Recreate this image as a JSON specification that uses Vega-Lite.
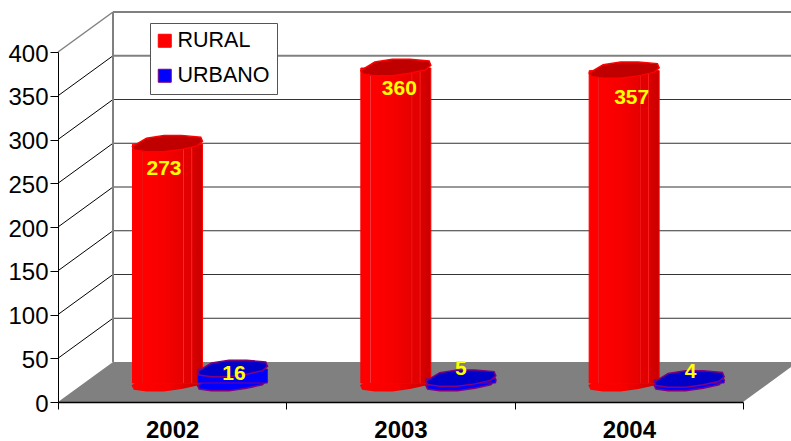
{
"$schema":"https://vega.github.io/schema/vega-lite/v6.json",
"autosize":{"type":"none"},
"padding":{"left":58,"top":12,"right":0,"bottom":39},
"width":733,"height":390,
"background":"white",
"config":{"view":{"stroke":null},"font":"Liberation Sans"},
"datasets":{
"cases":[
{"year":"2002","series":"RURAL","value":273},
{"year":"2003","series":"RURAL","value":360},
{"year":"2004","series":"RURAL","value":357},
{"year":"2002","series":"URBANO","value":16},
{"year":"2003","series":"URBANO","value":5},
{"year":"2004","series":"URBANO","value":4}],
"levels":[{"level":50,"back":95.7},{"level":100,"back":145.7},{"level":150,"back":195.7},{"level":200,"back":245.7},{"level":250,"back":295.7},{"level":300,"back":345.7},{"level":350,"back":395.7},{"level":400,"back":445.7}],
"wall":[{"low":0,"high":400}],
"floor":[{"x":0,"top":0,"bottom":0},{"x":0.2409,"top":45.7,"bottom":0},{"x":3,"top":45.7,"bottom":0},{"x":3.2409,"top":45.7,"bottom":45.7}]
},
"resolve":{"scale":{"x":"independent","y":"independent"}},
"layer":[
{"data":{"name":"floor"},"mark":{"type":"area","color":"#808080","clip":true,"interpolate":"linear"},
"encoding":{"x":{"field":"x","type":"quantitative","scale":{"domain":[0,3.2103],"range":[0,733]},"axis":null},
"y":{"field":"top","type":"quantitative","stack":null,"scale":{"domain":[0,400],"range":[390,40]},"axis":null},
"y2":{"field":"bottom"}}},
{"data":{"name":"levels"},"transform":[{"filter":"datum.level<400"}],"mark":{"type":"rule","color":"#000000","strokeWidth":1},
"encoding":{"x":{"datum":0,"type":"quantitative","scale":{"domain":[0,3.2103],"range":[0,733]},"axis":null},"x2":{"datum":0.2409},
"y":{"field":"level","type":"quantitative","scale":{"domain":[0,400],"range":[390,40]},"axis":null},"y2":{"field":"back"}}},
{"data":{"name":"levels"},"transform":[{"filter":"datum.level==400"}],"mark":{"type":"rule","color":"#808080","strokeWidth":1.5},
"encoding":{"x":{"datum":0,"type":"quantitative","scale":{"domain":[0,3.2103],"range":[0,733]},"axis":null},"x2":{"datum":0.2409},
"y":{"field":"level","type":"quantitative","scale":{"domain":[0,400],"range":[390,40]},"axis":null},"y2":{"field":"back"}}},
{"data":{"name":"levels"},"transform":[{"filter":"datum.level<=300"}],"mark":{"type":"rule","color":"#333333","strokeWidth":1},
"encoding":{"x":{"datum":0.2409,"type":"quantitative","scale":{"domain":[0,3.2103],"range":[0,733]},"axis":null},"x2":{"datum":3.2103},
"y":{"field":"level","type":"quantitative","scale":{"domain":[0,400],"range":[350,0]},"axis":null}}},
{"data":{"name":"levels"},"transform":[{"filter":"datum.level>300"}],"mark":{"type":"rule","color":"#808080","strokeWidth":2},
"encoding":{"x":{"datum":0.2409,"type":"quantitative","scale":{"domain":[0,3.2103],"range":[0,733]},"axis":null},"x2":{"datum":3.2103},
"y":{"field":"level","type":"quantitative","scale":{"domain":[0,400],"range":[350,0]},"axis":null}}},
{"data":{"name":"wall"},"mark":{"type":"rule","color":"#808080","strokeWidth":2},
"encoding":{"x":{"datum":0.2409,"type":"quantitative","scale":{"domain":[0,3.2103],"range":[0,733]},"axis":null},
"y":{"field":"low","type":"quantitative","scale":{"domain":[0,400],"range":[350,0]},"axis":null},"y2":{"field":"high"}}},
{"data":{"name":"cases"},"mark":{"type":"point","opacity":0},
"encoding":{"x":{"field":"year","type":"nominal","scale":{"domain":["2002","2003","2004"],"range":[0,685],"paddingInner":0,"paddingOuter":0},
"axis":{"title":null,"tickBand":"extent","labelAngle":0,"labelFontSize":24,"labelFontWeight":"bold","labelColor":"#000000","tickColor":"#000000","domainColor":"#000000","domainWidth":1.5,"tickSize":7,"labelPadding":9,"zindex":1}},
"y":{"field":"value","type":"quantitative","scale":{"domain":[0,400],"range":[390,40]},
"axis":{"title":null,"values":[0,50,100,150,200,250,300,350,400],"grid":false,"labelFontSize":24,"labelColor":"#000000","labelOffset":2,"tickColor":"#000000","domainColor":"#000000","tickSize":8,"labelPadding":2,"zindex":1}}}},
{"data":{"name":"cases"},"transform":[{"filter":"datum.series==='RURAL'"}],
"mark":{"type":"point","filled":true,"size":4900,"strokeWidth":1.5,"opacity":1,"shape":"M-1,0.07L-0.95,0.17L-0.6,0.22L-0.1,0.22L0.4,0.15L0.85,0.05L1,-0.08L0.95,-0.2L0.4,-0.25L-0.1,-0.25L-0.6,-0.17Z","fill":{"gradient":"linear","x1":0,"x2":1,"y1":0,"y2":0,"stops":[{"offset":0,"color":"#ff0000"},{"offset":0.5,"color":"#f80000"},{"offset":1,"color":"#c80000"}]},"stroke":{"gradient":"linear","x1":0,"x2":1,"y1":0,"y2":0,"stops":[{"offset":0,"color":"#ff0000"},{"offset":0.5,"color":"#f80000"},{"offset":1,"color":"#c80000"}]}},
"encoding":{"x":{"field":"year","type":"nominal","scale":{"domain":["2002","2003","2004"],"range":[-4.67,680.33],"paddingInner":0,"paddingOuter":0},"axis":null},
"y":{"datum":0,"type":"quantitative","scale":{"domain":[0,400],"range":[371,21]},"axis":null}}},
{"data":{"name":"cases"},"transform":[{"filter":"datum.series==='RURAL'"}],
"mark":{"type":"bar","width":70,"strokeWidth":1},
"encoding":{"x":{"field":"year","type":"nominal","scale":{"domain":["2002","2003","2004"],"range":[-4.67,680.33],"paddingInner":0,"paddingOuter":0},"axis":null},
"y":{"field":"value","type":"quantitative","stack":null,"scale":{"domain":[0,400],"range":[371,21]},"axis":null},
"fill":{"field":"series","type":"nominal","scale":{"domain":["RURAL","URBANO"],"range":["#ff0000","#0000ff"]},"legend":{"title":null,"orient":"none","legendX":92,"legendY":11,"fillColor":"#ffffff","strokeColor":"#555555","padding":7,"labelFontSize":21.5,"labelColor":"#000000","symbolType":"square","symbolSize":169,"symbolStrokeWidth":1,"symbolOffset":-3,"rowPadding":12,"labelOffset":2}},
"stroke":{"field":"series","type":"nominal","scale":{"domain":["RURAL","URBANO"],"range":["#ff0000","#800080"]},"legend":{"title":null,"orient":"none","legendX":92,"legendY":11}}}},
{"data":{"name":"cases"},"transform":[{"filter":"datum.series==='RURAL'"}],
"mark":{"type":"bar","width":69,"fill":{"gradient":"linear","x1":0,"x2":1,"y1":0,"y2":0,"stops":[{"offset":0,"color":"rgba(0,0,0,0)"},{"offset":0.125,"color":"rgba(0,0,0,0)"},{"offset":0.13,"color":"rgba(255,255,255,0.3)"},{"offset":0.145,"color":"rgba(0,0,0,0)"},{"offset":0.45,"color":"rgba(0,0,0,0.03)"},{"offset":0.7,"color":"rgba(0,0,0,0.09)"},{"offset":0.725,"color":"rgba(0,0,0,0.1)"},{"offset":0.73,"color":"rgba(255,255,255,0.2)"},{"offset":0.745,"color":"rgba(0,0,0,0.1)"},{"offset":0.84,"color":"rgba(0,0,0,0.12)"},{"offset":0.85,"color":"rgba(255,255,255,0.15)"},{"offset":0.865,"color":"rgba(0,0,0,0.14)"},{"offset":1,"color":"rgba(0,0,0,0.22)"}]}},
"encoding":{"x":{"field":"year","type":"nominal","scale":{"domain":["2002","2003","2004"],"range":[-4.67,680.33],"paddingInner":0,"paddingOuter":0},"axis":null},
"y":{"field":"value","type":"quantitative","stack":null,"scale":{"domain":[0,400],"range":[371,21]},"axis":null}}},
{"data":{"name":"cases"},"transform":[{"filter":"datum.series==='RURAL'"}],
"mark":{"type":"point","filled":true,"size":4900,"strokeWidth":1.5,"opacity":1,"shape":"M-1,0.07L-0.95,0.17L-0.6,0.22L-0.1,0.22L0.4,0.15L0.85,0.05L1,-0.08L0.95,-0.2L0.4,-0.25L-0.1,-0.25L-0.6,-0.17Z","fill":"#c00000","stroke":"#ff0000"},
"encoding":{"x":{"field":"year","type":"nominal","scale":{"domain":["2002","2003","2004"],"range":[-4.67,680.33],"paddingInner":0,"paddingOuter":0},"axis":null},
"y":{"field":"value","type":"quantitative","scale":{"domain":[0,400],"range":[371,21]},"axis":null}}},
{"data":{"name":"cases"},"transform":[{"filter":"datum.series==='URBANO'"}],
"mark":{"type":"point","filled":true,"size":4900,"strokeWidth":1.5,"opacity":1,"shape":"M-1,0.07L-0.95,0.17L-0.6,0.22L-0.1,0.22L0.4,0.15L0.85,0.05L1,-0.08L0.95,-0.2L0.4,-0.25L-0.1,-0.25L-0.6,-0.17Z","fill":"#0000ff","stroke":"#800080"},
"encoding":{"x":{"field":"year","type":"nominal","scale":{"domain":["2002","2003","2004"],"range":[60.33,745.33],"paddingInner":0,"paddingOuter":0},"axis":null},
"y":{"datum":0,"type":"quantitative","scale":{"domain":[0,400],"range":[371,21]},"axis":null}}},
{"data":{"name":"cases"},"transform":[{"filter":"datum.series==='URBANO'"}],
"mark":{"type":"bar","width":70,"strokeWidth":1,"fill":"#0000ff","stroke":"#800080"},
"encoding":{"x":{"field":"year","type":"nominal","scale":{"domain":["2002","2003","2004"],"range":[60.33,745.33],"paddingInner":0,"paddingOuter":0},"axis":null},
"y":{"field":"value","type":"quantitative","stack":null,"scale":{"domain":[0,400],"range":[371,21]},"axis":null}}},
{"data":{"name":"cases"},"transform":[{"filter":"datum.series==='URBANO'"}],
"mark":{"type":"point","filled":true,"size":4900,"strokeWidth":1.5,"opacity":1,"shape":"M-1,0.07L-0.95,0.17L-0.6,0.22L-0.1,0.22L0.4,0.15L0.85,0.05L1,-0.08L0.95,-0.2L0.4,-0.25L-0.1,-0.25L-0.6,-0.17Z","fill":"#0000c8","stroke":"#800080"},
"encoding":{"x":{"field":"year","type":"nominal","scale":{"domain":["2002","2003","2004"],"range":[60.33,745.33],"paddingInner":0,"paddingOuter":0},"axis":null},
"y":{"field":"value","type":"quantitative","scale":{"domain":[0,400],"range":[371,21]},"axis":null}}},
{"data":{"name":"cases"},"transform":[{"filter":"datum.series==='RURAL' && datum.year==='2002'"}],"mark":{"type":"text","fontSize":21,"fontWeight":"bold","color":"#ffff00","dx":-3.5,"dy":25},
"encoding":{"x":{"field":"year","type":"nominal","scale":{"domain":["2002","2003","2004"],"range":[-4.67,680.33],"paddingInner":0,"paddingOuter":0},"axis":null},"y":{"field":"value","type":"quantitative","scale":{"domain":[0,400],"range":[371,21]},"axis":null},"text":{"field":"value"}}},
{"data":{"name":"cases"},"transform":[{"filter":"datum.series==='RURAL' && datum.year==='2003'"}],"mark":{"type":"text","fontSize":21,"fontWeight":"bold","color":"#ffff00","dx":3.5,"dy":21},
"encoding":{"x":{"field":"year","type":"nominal","scale":{"domain":["2002","2003","2004"],"range":[-4.67,680.33],"paddingInner":0,"paddingOuter":0},"axis":null},"y":{"field":"value","type":"quantitative","scale":{"domain":[0,400],"range":[371,21]},"axis":null},"text":{"field":"value"}}},
{"data":{"name":"cases"},"transform":[{"filter":"datum.series==='RURAL' && datum.year==='2004'"}],"mark":{"type":"text","fontSize":21,"fontWeight":"bold","color":"#ffff00","dx":7.5,"dy":27},
"encoding":{"x":{"field":"year","type":"nominal","scale":{"domain":["2002","2003","2004"],"range":[-4.67,680.33],"paddingInner":0,"paddingOuter":0},"axis":null},"y":{"field":"value","type":"quantitative","scale":{"domain":[0,400],"range":[371,21]},"axis":null},"text":{"field":"value"}}},
{"data":{"name":"cases"},"transform":[{"filter":"datum.series==='URBANO' && datum.year==='2002'"}],"mark":{"type":"text","fontSize":21,"fontWeight":"bold","color":"#ffff00","dx":1.5,"dy":5},
"encoding":{"x":{"field":"year","type":"nominal","scale":{"domain":["2002","2003","2004"],"range":[60.33,745.33],"paddingInner":0,"paddingOuter":0},"axis":null},"y":{"field":"value","type":"quantitative","scale":{"domain":[0,400],"range":[371,21]},"axis":null},"text":{"field":"value"}}},
{"data":{"name":"cases"},"transform":[{"filter":"datum.series==='URBANO' && datum.year==='2003'"}],"mark":{"type":"text","fontSize":21,"fontWeight":"bold","color":"#ffff00","dx":0,"dy":-10},
"encoding":{"x":{"field":"year","type":"nominal","scale":{"domain":["2002","2003","2004"],"range":[60.33,745.33],"paddingInner":0,"paddingOuter":0},"axis":null},"y":{"field":"value","type":"quantitative","scale":{"domain":[0,400],"range":[371,21]},"axis":null},"text":{"field":"value"}}},
{"data":{"name":"cases"},"transform":[{"filter":"datum.series==='URBANO' && datum.year==='2004'"}],"mark":{"type":"text","fontSize":21,"fontWeight":"bold","color":"#ffff00","dx":1.5,"dy":-8},
"encoding":{"x":{"field":"year","type":"nominal","scale":{"domain":["2002","2003","2004"],"range":[60.33,745.33],"paddingInner":0,"paddingOuter":0},"axis":null},"y":{"field":"value","type":"quantitative","scale":{"domain":[0,400],"range":[371,21]},"axis":null},"text":{"field":"value"}}}
]
}
